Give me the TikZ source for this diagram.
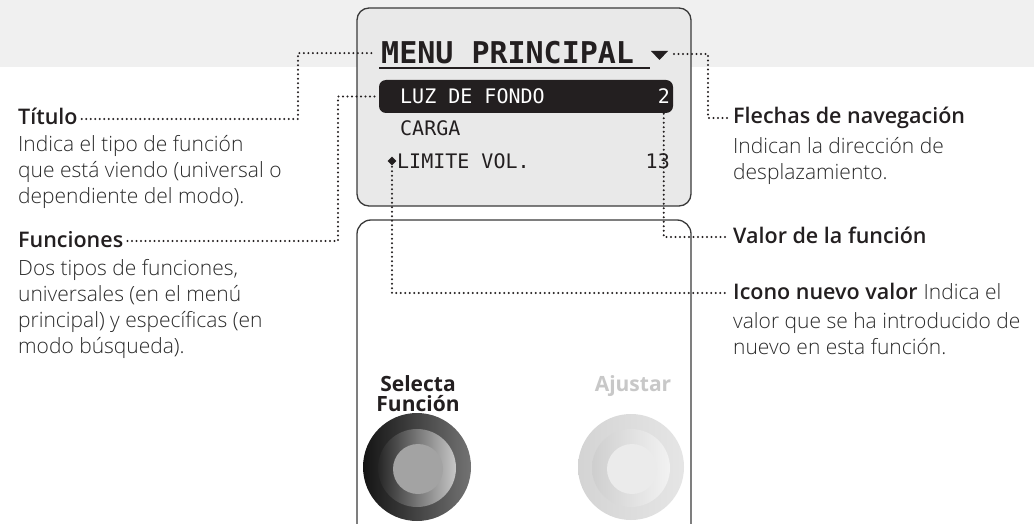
\documentclass[tikz,border=0pt]{standalone}
\usepackage{fontspec}
\IfFontExistsTF{Open Sans Light}{\def\lightname{Open Sans Light}}{\def\lightname{Open Sans}}
\IfFontExistsTF{Open Sans SemiBold}{\def\seminame{Open Sans SemiBold}}{%
  \IfFontExistsTF{Open Sans Semibold}{\def\seminame{Open Sans Semibold}}{\def\seminame{Open Sans Bold}}}
\setmainfont{\lightname}[BoldFont={\seminame}]
\IfFontExistsTF{Open Sans Bold}{\newfontfamily\btnfont{Open Sans Bold}}{\newfontfamily\btnfont{\seminame}}
\newfontfamily\lcdfont{DejaVu Sans Mono}
\usetikzlibrary{shapes.geometric}
\definecolor{band}{HTML}{F0F0F0}
\definecolor{screen}{HTML}{E9E9E9}
\definecolor{frame}{HTML}{3A3A3A}
\definecolor{lcdink}{HTML}{231F20}
\definecolor{ink}{HTML}{231F20}
\definecolor{bodyink}{HTML}{2A2A2A}
\definecolor{faint}{HTML}{C8C8C8}

\begin{document}
\begin{tikzpicture}[x=1pt,y=-1pt,
  head/.style={anchor=base west,inner sep=0pt,text height=12pt,text depth=0pt,text=ink,font=\bfseries\fontsize{21.5}{26}\selectfont},
  body/.style={anchor=base west,inner sep=0pt,align=left,text=bodyink,font=\fontsize{21}{26}\selectfont},
  lcd/.style={inner sep=0pt,text=lcdink,font=\lcdfont\fontsize{20}{20}\selectfont},
  dotline/.style={draw=ink,line width=2.2pt,line cap=round,dash pattern=on 0pt off 4.5pt,shorten <=4pt,shorten >=4pt},
  knob/.style={circle,inner sep=0pt,shading angle=45}]
\useasboundingbox (0,0) rectangle (1034,524);
\fill[band] (0,0) rectangle (1034,67);
\draw[fill=screen,draw=frame,line width=1.3pt,rounded corners=12pt] (357,8) rectangle (691,206);
\draw[fill=white,draw=frame,line width=1.3pt,rounded corners=14pt] (357,530) -- (357,220) -- (691,220) -- (691,530);

\node[lcd,anchor=base west,inner xsep=2pt,font=\lcdfont\bfseries\fontsize{30}{30}\selectfont] (menu) at (379,64) {MENU PRINCIPAL};
\draw[lcdink,line width=1.6pt] (379,68) -- (650,68);
\fill[lcdink] (651,51) -- (668,51) -- (659.5,60) -- cycle;
\coordinate (flecha) at (670,54);
\node[fill=lcdink,rounded corners=7pt,minimum width=294pt,minimum height=33pt,inner sep=0pt] (barra) at (526,96.5) {};
\node[lcd,anchor=base west,text=white] (luz) at (400,103.5) {LUZ DE FONDO};
\node[lcd,anchor=base east,text=white] (val2) at (670,103.5) {2};
\node[lcd,anchor=base west] (carga) at (400,136) {CARGA};
\node[diamond,fill=lcdink,minimum size=9pt,inner sep=0pt] (nuevo) at (392,161) {};
\node[lcd,anchor=base west] (limite) at (397,168.5) {LIMITE VOL.};
\node[lcd,anchor=base east] (val13) at (670,168.5) {13};

\node[knob,minimum size=108pt,left color=black!92,right color=black!55] (selecta-k) at (417,467) {};
\node[knob,minimum size=78pt,left color=black!85,right color=black!22] (selecta-r) at (417,468) {};
\node[circle,minimum size=50pt,inner sep=0pt,fill=black!36] (selecta-c) at (418,469) {};
\node[knob,minimum size=106pt,left color=black!17,right color=black!10] (ajustar-k) at (631,467) {};
\node[knob,minimum size=78pt,left color=black!19,right color=black!5] (ajustar-r) at (631,468) {};
\node[circle,minimum size=50pt,inner sep=0pt,fill=black!8] (ajustar-c) at (632,469) {};
\node[inner sep=0pt,anchor=south,align=center,text=ink,font=\btnfont\fontsize{21}{20}\selectfont] (selecta) at (418,412) {Selecta\\Función};
\node[inner sep=0pt,anchor=base,text=faint,font=\btnfont\fontsize{21}{20}\selectfont] (ajustar) at (633,391) {Ajustar};

\node[head] (titulo) at (18,125) {Título};
\node[body] (titulo-txt) at (18,204) {Indica el tipo de función\\que está viendo (universal o\\dependiente del modo).};
\node[head] (funciones) at (18,247) {Funciones};
\node[body] (funciones-txt) at (18,353) {Dos tipos de funciones,\\universales (en el menú\\principal) y específicas (en\\modo búsqueda).};
\node[head] (flechas) at (733,124) {Flechas de navegación};
\node[body] (flechas-txt) at (733,179) {Indican la dirección de\\desplazamiento.};
\node[head] (valor) at (733,243) {Valor de la función};
\node[head] (icono) at (733,299) {Icono nuevo valor};
\node[body] (icono-txt) at (icono.base east) {\ Indica el};
\node[body] (icono-txt2) at (733,354) {valor que se ha introducido de\\nuevo en esta función.};

\coordinate (c-titulo) at (298,90);
\coordinate (c-funciones) at (338,150);
\coordinate (c-flechas) at (708,85);
\draw[dotline] (titulo.east) -| (c-titulo) |- (menu.west);
\draw[dotline] (funciones.east) -| (c-funciones) |- (barra.west);
\draw[dotline] (flecha) -| (c-flechas) |- (flechas.west);
\draw[dotline,shorten <=1pt] (val2.south) |- (valor.west);
\draw[dotline,shorten <=1pt] (nuevo.south) |- (icono.west);
\end{tikzpicture}
\end{document}
